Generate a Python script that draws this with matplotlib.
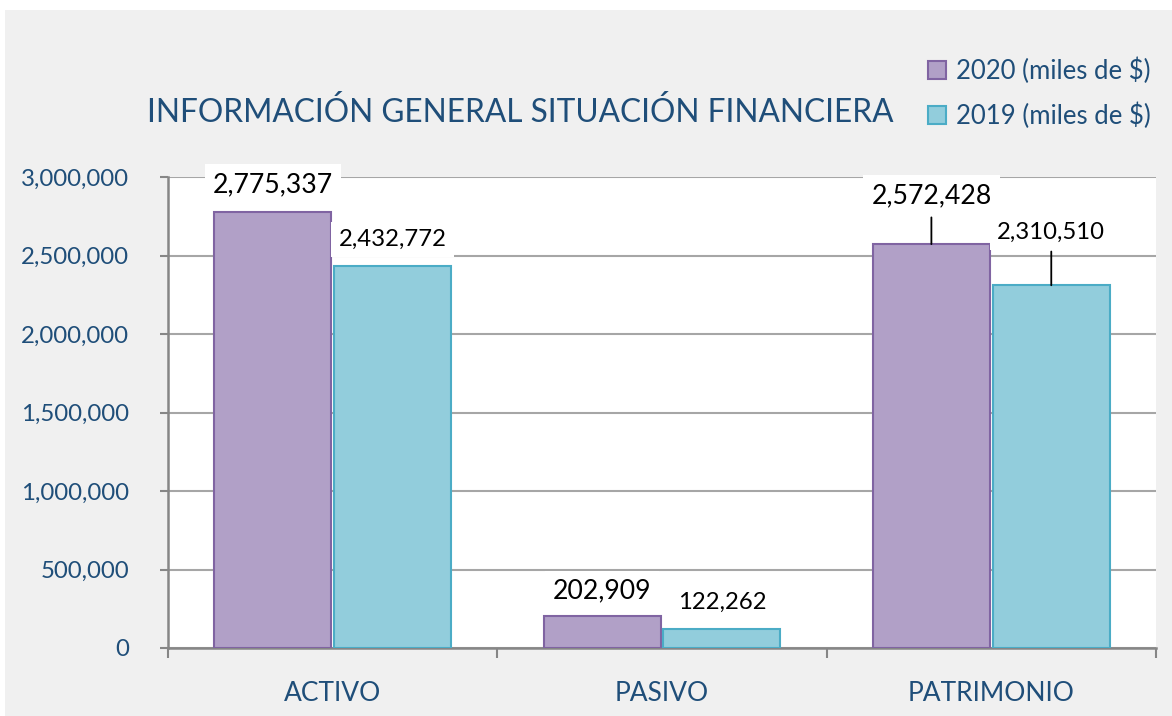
import numpy as np
import matplotlib
matplotlib.use('Agg')
from matplotlib import pyplot as plt
from matplotlib.patches import Rectangle

categories = ['ACTIVO', 'PASIVO', 'PATRIMONIO']
series_names = ['2020 (miles de $)', '2019 (miles de $)']
values_2020 = [2775337, 202909, 2572428]
values_2019 = [2432772, 122262, 2310510]
y_ticks = [0, 500000, 1000000, 1500000, 2000000, 2500000, 3000000]
title = 'INFORMACIÓN GENERAL SITUACIÓN FINANCIERA'

blue_text = '#1F4E79'
purple, purple_edge = '#B1A0C7', '#8064A2'
cyan, cyan_edge = '#92CDDC', '#4BACC6'
grid_col = '#A6A6A6'

plt.rcParams['font.family'] = ['Lato', 'DejaVu Sans']

fig = plt.figure(figsize=(11.72, 7.16), dpi=100)
fig.patch.set_facecolor('white')
# grey chart panel
fig.patches.append(Rectangle((5 / 1172, 0), 1 - 5 / 1172, 1 - 10 / 716,
                             transform=fig.transFigure, facecolor='#F0F0F0',
                             edgecolor='none', zorder=-10))

ax = fig.add_axes([168 / 1172, 1 - 648 / 716, (1156 - 168) / 1172, (648 - 177) / 716])
ax.set_facecolor('white')

x = np.arange(len(categories))
w = 0.355
b1 = ax.bar(x - 0.182, values_2020, w, color=purple, edgecolor=purple_edge,
            linewidth=1.5, label=series_names[0], zorder=3)
b2 = ax.bar(x + 0.182, values_2019, w, color=cyan, edgecolor=cyan_edge,
            linewidth=1.5, label=series_names[1], zorder=3)

ax.set_xlim(-0.5, len(categories) - 0.5)
ax.set_ylim(0, 3000000)
ax.set_yticks(y_ticks)
ax.set_yticklabels([f'{v:,}' for v in y_ticks])
ax.set_xticks(x)
ax.set_xticklabels(categories)
ax.set_xticks(np.arange(-0.5, len(categories)), minor=True)
ax.tick_params(axis='x', which='major', length=0, pad=24, labelsize=19, labelcolor=blue_text)
ax.tick_params(axis='x', which='minor', length=7, width=1.5, color='#868686', direction='out')
ax.tick_params(axis='y', length=6, width=1.5, color='#868686', pad=22,
               labelsize=17.3, labelcolor=blue_text)
ax.yaxis.grid(True, color=grid_col, linewidth=1.5, zorder=0)
ax.set_axisbelow(True)
for s in ['top', 'right']:
    ax.spines[s].set_visible(False)
for s in ['left', 'bottom']:
    ax.spines[s].set_color('#868686')
    ax.spines[s].set_linewidth(1.8)

# data labels: (offset above bar in points, font size, leader line)
label_style_2020 = [(20, 19.2, False), (18, 19.2, False), (35, 19.2, True)]
label_style_2019 = [(19, 17.2, False), (19, 17.2, False), (38, 17.2, True)]
for bars, vals, styles in [(b1, values_2020, label_style_2020),
                           (b2, values_2019, label_style_2019)]:
    for bar, v, (off, fs, leader) in zip(bars, vals, styles):
        cx = bar.get_x() + bar.get_width() / 2
        props = dict(arrowstyle='-', color='black', lw=1.3, shrinkA=1, shrinkB=0) if leader else None
        ax.annotate(f'{v:,}', xy=(cx, v), xytext=(0, off), textcoords='offset points',
                    ha='center', va='center', fontsize=fs, color='black', zorder=5,
                    bbox=dict(boxstyle='square,pad=0.3', facecolor='white', edgecolor='none'),
                    arrowprops=props)

fig.text(520 / 1172, 1 - 113 / 716, title, ha='center', va='center',
         fontsize=22.8, color=blue_text)

leg = fig.legend(handles=[b1, b2], loc='upper right', bbox_to_anchor=(1174 / 1172, 1 - 34 / 716),
                 frameon=False, fontsize=18.5, handlelength=0.7, handleheight=0.7,
                 handletextpad=0.4, labelspacing=0.72)
for t in leg.get_texts():
    t.set_color(blue_text)

fig.savefig('out.png', dpi=100)
